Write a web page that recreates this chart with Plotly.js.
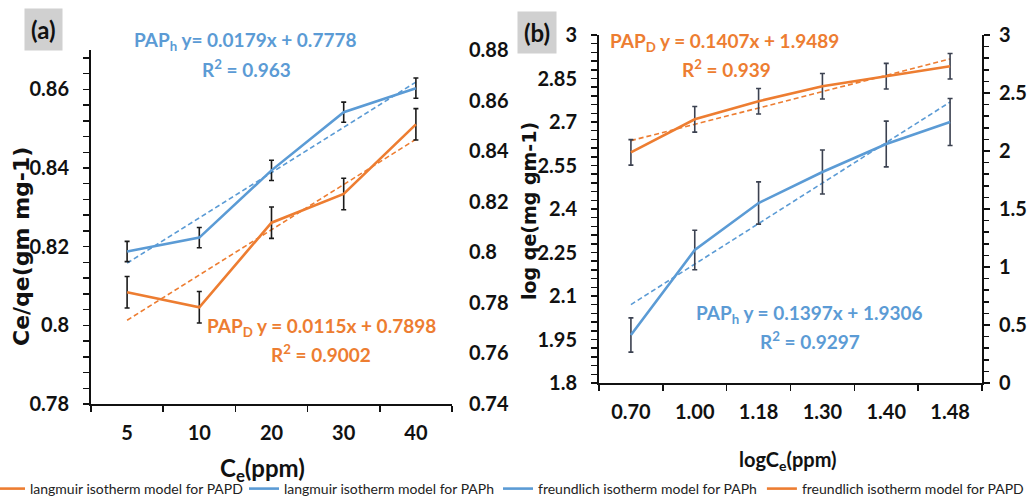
<!DOCTYPE html>
<html>
<head>
<meta charset="utf-8">
<script src="https://cdn.plot.ly/plotly-3.0.1.min.js"></script>
<style>html,body{margin:0;padding:0;background:#fff}#chart{width:1028px;height:500px}</style>
</head>
<body>
<div id="chart"></div>
<script>
// ---------- data ----------
const catA = ['5', '10', '20', '30', '40'];
const langPAPD = [0.8084, 0.8046, 0.8261, 0.8334, 0.8511];
const langPAPh = [0.8003, 0.8058, 0.8324, 0.8554, 0.8649];
const errLangPAPD = [0.004, 0.004, 0.004, 0.004, 0.004];
const errLangPAPh = [0.004, 0.004, 0.004, 0.004, 0.004];
const fitLangPAPD = [0.0115, 0.7898];   // slope, intercept
const fitLangPAPh = [0.0179, 0.7778];
const r2Lang = [0.9002, 0.963];         // PAPD, PAPh

const catB = ['0.70', '1.00', '1.18', '1.30', '1.40', '1.48'];
const freuPAPh = [1.9655, 2.2586, 2.4207, 2.5276, 2.6241, 2.700];
const freuPAPD = [1.988, 2.273, 2.429, 2.558, 2.645, 2.731];
const errFreuPAPh = [0.059, 0.068, 0.073, 0.076, 0.079, 0.081];
const errFreuPAPD = [0.11, 0.11, 0.11, 0.11, 0.11, 0.11];
const fitFreuPAPD = [0.1407, 1.9489];
const fitFreuPAPh = [0.1397, 1.9306];
const r2Freu = [0.939, 0.9297];         // PAPD, PAPh

// ---------- styling ----------
const ORANGE = '#ED7D31', BLUE = '#5B9BD5';
const FONT = 'Lato, "Open Sans", sans-serif';
const VFONT = '"DejaVu Sans", Lato, sans-serif';
const W = 1028, H = 500;
const px = v => v / W, py = v => 1 - v / H;
const trend = (fit, n) => Array.from({length: n}, (_, i) => fit[0] * (i + 1) + fit[1]);

function lineTrace(x, y, err, color, errColor, name, xa, ya, legend) {
  return {
    type: 'scatter', mode: 'lines', x: x, y: y, name: name,
    xaxis: xa, yaxis: ya, legend: legend,
    line: {color: color, width: 2.6},
    error_y: {type: 'data', array: err, visible: true, color: errColor, thickness: 1.6, width: 2.5}
  };
}
function fitTrace(x, fit, color, xa, ya) {
  return {
    type: 'scatter', mode: 'lines', x: x, y: trend(fit, x.length),
    xaxis: xa, yaxis: ya, showlegend: false, hoverinfo: 'skip',
    line: {color: color, width: 1.6, dash: '5px,3px'}
  };
}

const data = [
  fitTrace(catA, fitLangPAPD, ORANGE, 'x', 'y'),
  lineTrace(catA, langPAPD, errLangPAPD, ORANGE, '#1a1a1a', 'langmuir isotherm model for PAPD', 'x', 'y', 'legend'),
  fitTrace(catA, fitLangPAPh, BLUE, 'x', 'y2'),
  lineTrace(catA, langPAPh, errLangPAPh, BLUE, '#1a1a1a', 'langmuir isotherm model for PAPh', 'x', 'y2', 'legend'),
  fitTrace(catB, fitFreuPAPh, BLUE, 'x2', 'y3'),
  lineTrace(catB, freuPAPh, errFreuPAPh, BLUE, '#3b4150', 'freundlich isotherm model for PAPh', 'x2', 'y3', 'legend2'),
  fitTrace(catB, fitFreuPAPD, ORANGE, 'x2', 'y4'),
  lineTrace(catB, freuPAPD, errFreuPAPD, ORANGE, '#3b4150', 'freundlich isotherm model for PAPD', 'x2', 'y4', 'legend2')
];

const tickFont = {family: FONT, size: 20, color: '#111', weight: 'bold'};

const xBase = {
  type: 'category', showline: true, linecolor: '#111', linewidth: 2,
  ticks: 'outside', ticklen: 6, tickwidth: 1.5, tickcolor: '#111', tickson: 'boundaries',
  showgrid: false, zeroline: false, tickfont: tickFont, ticklabelstandoff: 10, fixedrange: true
};
const yBase = {
  showline: true, linecolor: '#111', linewidth: 2,
  ticks: 'outside', ticklen: 6, tickwidth: 1.5, tickcolor: '#111',
  showgrid: false, zeroline: false, tickfont: tickFont, fixedrange: true
};
const legendBase = {
  orientation: 'h', xanchor: 'left', y: py(489), yanchor: 'middle',
  traceorder: 'normal', itemwidth: 30, bgcolor: 'rgba(0,0,0,0)',
  font: {family: FONT, size: 14, color: '#222'}
};

function ann(text, x, y, color, size, extra) {
  return Object.assign({
    text: text, xref: 'paper', yref: 'paper', x: px(x), y: py(y),
    xanchor: 'center', yanchor: 'middle', showarrow: false,
    font: {family: FONT, size: size, color: color, weight: 'bold'}
  }, extra || {});
}
const boxFont = {family: FONT, size: 24, color: '#111', weight: 'bold'};
const vTitleFont = size => ({family: VFONT, size: size, color: '#111', weight: 'bold'});

const layout = {
  width: W, height: H,
  margin: {l: 0, r: 0, t: 0, b: 0, autoexpand: false},
  paper_bgcolor: '#fff', plot_bgcolor: 'rgba(0,0,0,0)',
  showlegend: true,
  legend: Object.assign({}, legendBase, {x: px(-10), entrywidth: 209}),
  legend2: Object.assign({}, legendBase, {x: px(498)}),
  xaxis: Object.assign({}, xBase, {
    domain: [px(91), px(452)], anchor: 'y', range: [-0.5, 4.5]
  }),
  yaxis: Object.assign({}, yBase, {
    domain: [py(404), py(50)], anchor: 'x', range: [0.78, 0.87], dtick: 0.02, tick0: 0.78,
    minor: {dtick: 0.004, ticks: 'outside', ticklen: 6, tickwidth: 1.5, tickcolor: '#111'},
    ticklabelstandoff: 10
  }),
  yaxis2: Object.assign({}, yBase, {
    overlaying: 'y', side: 'right', anchor: 'x', range: [0.74, 0.88], dtick: 0.02, tick0: 0.74,
    showline: false, ticks: '', ticklabelstandoff: 16
  }),
  xaxis2: Object.assign({}, xBase, {
    domain: [px(599), px(982)], anchor: 'y3', range: [-0.5, 5.5]
  }),
  yaxis3: Object.assign({}, yBase, {
    domain: [py(383), py(35)], anchor: 'x2', range: [1.8, 3.0], dtick: 0.15, tick0: 1.8,
    minor: {dtick: 0.03, ticks: 'outside', ticklen: 6, tickwidth: 1.5, tickcolor: '#111'},
    ticklabelstandoff: 10
  }),
  yaxis4: Object.assign({}, yBase, {
    overlaying: 'y3', side: 'right', anchor: 'x2', range: [0, 3.0], dtick: 0.5, tick0: 0,
    minor: {dtick: 0.1, ticks: 'outside', ticklen: 5, tickwidth: 1.5, tickcolor: '#111'},
    ticklabelstandoff: 5
  }),
  annotations: [
    // axis titles
    ann('C<sub>e</sub>(ppm)', 262, 469, '#111', 24),
    ann('logC<sub>e</sub>(ppm)', 788, 460, '#111', 20),
    ann('Ce/qe(gm mg-1)', 21, 247, '#111', 22, {textangle: -90, font: vTitleFont(22)}),
    ann('log qe(mg gm-1)', 529, 211, '#111', 19, {textangle: -90, font: vTitleFont(19)}),
    // panel labels
    ann('(a)', 43, 29.5, '#111', 24, {bgcolor: '#d0d0d0', borderpad: 6, font: boxFont}),
    ann('(b)', 537, 32.5, '#111', 24, {bgcolor: '#d0d0d0', borderpad: 6, font: boxFont}),
    // trend-line equations
    ann('PAP<sub>h</sub> y= ' + fitLangPAPh[0] + 'x + ' + fitLangPAPh[1], 245, 41, BLUE, 19),
    ann('R<sup>2</sup> = ' + r2Lang[1], 246, 68, BLUE, 19),
    ann('PAP<sub>D</sub> y = ' + fitLangPAPD[0] + 'x + ' + fitLangPAPD[1], 321, 327, ORANGE, 19),
    ann('R<sup>2</sup> = ' + r2Lang[0], 321, 353, ORANGE, 19),
    ann('PAP<sub>D</sub> y = ' + fitFreuPAPD[0] + 'x + ' + fitFreuPAPD[1], 724, 42, ORANGE, 19),
    ann('R<sup>2</sup> = ' + r2Freu[0], 726, 68, ORANGE, 19),
    ann('PAP<sub>h</sub> y = ' + fitFreuPAPh[0] + 'x + ' + fitFreuPAPh[1], 809, 314, BLUE, 19),
    ann('R<sup>2</sup> = ' + r2Freu[1], 810, 340, BLUE, 19)
  ]
};

Plotly.newPlot('chart', data, layout, {displayModeBar: false, staticPlot: true});
</script>
</body>
</html>
